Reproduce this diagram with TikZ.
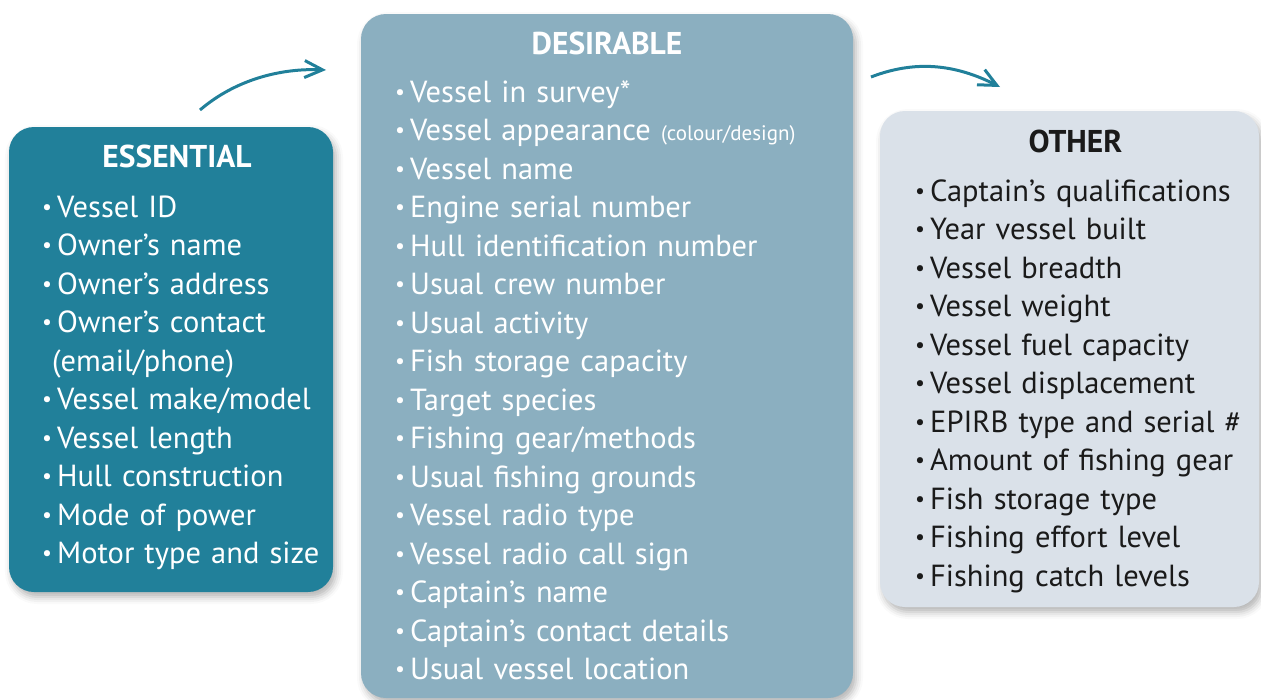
\documentclass[tikz,border=0pt]{standalone}
\usepackage{fontspec}
\setmainfont{PT Sans}
\usepackage{tikz}
\usetikzlibrary{positioning,arrows.meta,shadows.blur}
\definecolor{essteal}{HTML}{21809A}
\definecolor{desblue}{HTML}{8BAFC0}
\definecolor{othgrey}{HTML}{DAE1E9}
\definecolor{othtext}{HTML}{1A1A1A}
\tikzstyle{card} = [rectangle, rounded corners=25pt, inner sep=0pt, blur shadow={shadow xshift=3pt, shadow yshift=-5pt, shadow opacity=30, shadow blur radius=7pt}]
\tikzstyle{heading} = [font=\fontsize{31.5}{32}\selectfont\bfseries, inner sep=0pt]
\tikzstyle{itemlist} = [anchor=base west, inner sep=0pt, text width=480pt, align=left, font=\fontsize{30.5}{38.5}\selectfont]
\tikzstyle{flow} = [draw=essteal, line width=3pt, -{Straight Barb[length=18pt,width=17pt,line width=3pt]}]
\newcommand{\bul}{{\fontsize{22}{22}\selectfont\raisebox{2.7pt}{\textbullet}}\hspace{5pt}}

\begin{document}
\begin{tikzpicture}[x=1pt,y=-1pt]
            \useasboundingbox (0,0) rectangle (1261,699);
            \node [card, fill=essteal, minimum width=324pt, minimum height=465pt] (ess) at (171,359.5) {};
            \node [card, fill=desblue, minimum width=492pt, minimum height=684pt] (des) at (607,356) {};
            \node [card, fill=othgrey, minimum width=379pt, minimum height=496pt] (oth) at (1069.5,359) {};

            \node [heading, text=white, below=18pt of ess.north, xshift=6pt] (esshead) {ESSENTIAL};
            \node [heading, text=white, below=18pt of des.north] (deshead) {DESIRABLE};
            \node [heading, text=othtext, below=19pt of oth.north, xshift=6pt] (othhead) {OTHER};

            \node [itemlist, text=white] (esslist) at (42,217) {\bul Vessel ID\\ \bul Owner’s name\\ \bul Owner’s address\\ \bul Owner’s contact\\ \hspace*{10pt}(email/phone)\\ \bul Vessel make/model\\ \bul Vessel length\\ \bul Hull construction\\ \bul Mode of power\\ \bul Motor type and size};

            \node [itemlist, text=white] (deslist) at (395,102) {\bul Vessel in survey*\\ \bul Vessel appearance {\fontsize{21}{22}\selectfont(colour/design)}\\ \bul Vessel name\\ \bul Engine serial number\\ \bul Hull identification number\\ \bul Usual crew number\\ \bul Usual activity\\ \bul Fish storage capacity\\ \bul Target species\\ \bul Fishing gear/methods\\ \bul Usual fishing grounds\\ \bul Vessel radio type\\ \bul Vessel radio call sign\\ \bul Captain’s name\\ \bul Captain’s contact details\\ \bul Usual vessel location};

            \node [itemlist, text=othtext] (othlist) at (915,201) {\bul Captain’s qualifications\\ \bul Year vessel built\\ \bul Vessel breadth\\ \bul Vessel weight\\ \bul Vessel fuel capacity\\ \bul Vessel displacement\\ \bul EPIRB type and serial \#\\ \bul Amount of fishing gear\\ \bul Fish storage type\\ \bul Fishing effort level\\ \bul Fishing catch levels};

            \coordinate (flow1s) at (200,110);
            \coordinate (flow1e) at (326,70);
            \coordinate (flow2s) at (871,77);
            \coordinate (flow2e) at (1000,87);
            \draw[flow] (flow1s) .. controls (235,80) and (280,68) .. (flow1e);
            \draw[flow] (flow2s) .. controls (915,60) and (955,64) .. (flow2e);
        \end{tikzpicture}
\end{document}
